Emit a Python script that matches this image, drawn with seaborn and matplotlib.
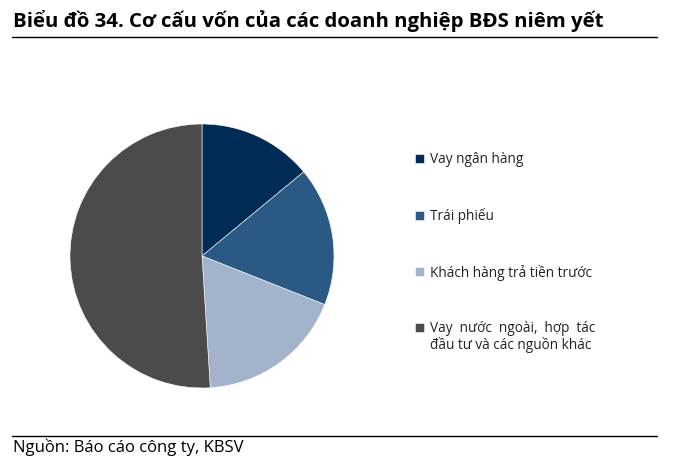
import matplotlib.pyplot as plt
import matplotlib.lines as mlines
import seaborn as sns

# data (% share)
labels = ["Vay ngân hàng", "Trái phiếu", "Khách hàng trả tiền trước",
          "Vay  nước  ngoài,  hợp  tác"]
label_cont = "đầu tư và các nguồn khác"
shares = [14, 17, 18, 51]
colors = ["#002b55", "#2a5a84", "#a3b3cb", "#4b4b4b"]

title = "Biểu đồ 34. Cơ cấu vốn của các doanh nghiệp BĐS niêm yết"
source = "Nguồn: Báo cáo công ty, KBSV"

sns.set_theme(style="white")
plt.rcParams["font.family"] = ["Open Sans", "DejaVu Sans"]

W, H = 676, 469
fig = plt.figure(figsize=(W / 100, H / 100), dpi=100)

# pie axes: circle centred near (202, 256) px, radius ~132 px
ax = fig.add_axes([70 / W, 81 / H, 264 / W, 264 / H])
wedges, _ = ax.pie(shares, colors=colors, startangle=90, counterclock=False,
                   wedgeprops=dict(edgecolor="white", linewidth=0.4))
ax.set_xlim(-1, 1)
ax.set_ylim(-1, 1)
ax.set_aspect("equal")

fig.legend(wedges, labels, loc="upper left", bbox_to_anchor=(410 / W, 1 - 147 / H),
           frameon=False, fontsize=9.8, handlelength=0.6, handleheight=0.6,
           handletextpad=0.45, labelspacing=2.98, labelcolor="#222222",
           borderaxespad=0)
fig.text(430 / W, 1 - 345 / H, label_cont, fontsize=9.8, va="center", ha="left",
         color="#222222")

# title and rules
fig.text(13 / W, 1 - 27 / H, title, fontsize=14.7, fontweight="bold",
         va="baseline", ha="left", color="black")
fig.add_artist(mlines.Line2D([12 / W, 657 / W], [1 - 37 / H] * 2, color="black", lw=1))
fig.add_artist(mlines.Line2D([12 / W, 657 / W], [1 - 436 / H] * 2, color="black", lw=1))
fig.text(13 / W, 1 - 452 / H, source, fontsize=12, va="baseline", ha="left",
         color="black")

fig.savefig("out.png", dpi=100)
